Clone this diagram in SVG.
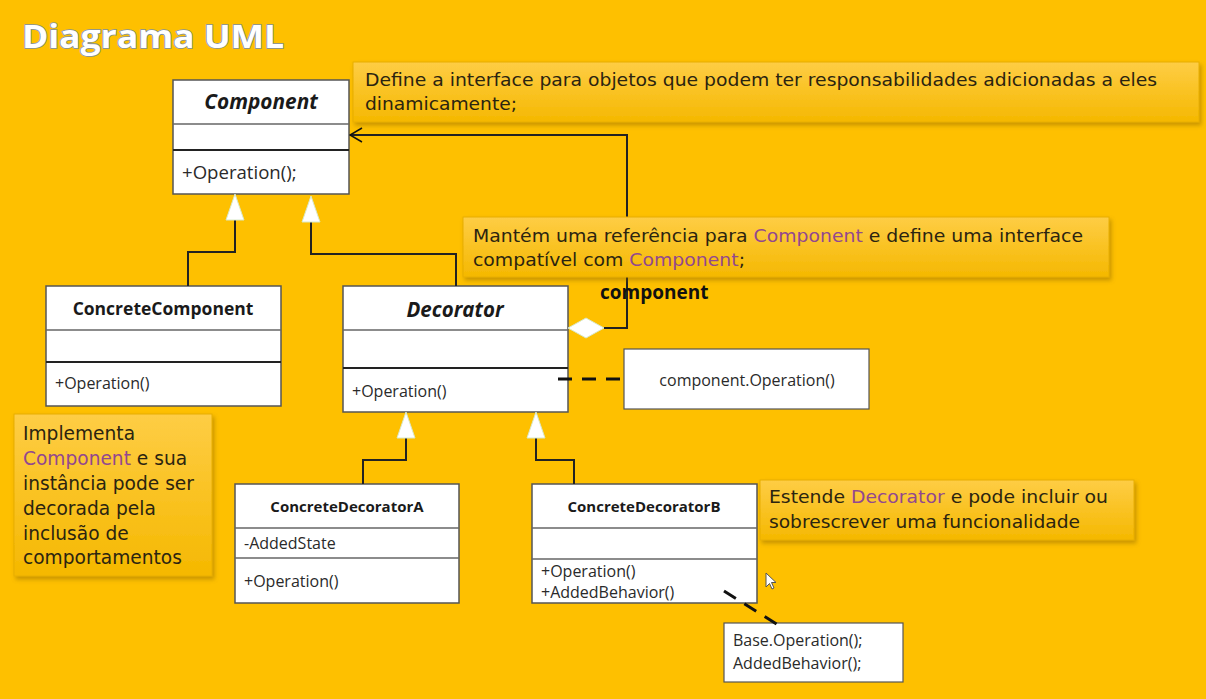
<svg xmlns="http://www.w3.org/2000/svg" width="1206" height="699" viewBox="0 0 1206 699">
<defs>
<linearGradient id="ng" x1="0" y1="0" x2="0" y2="1">
<stop offset="0" stop-color="#FECD45"/>
<stop offset="1" stop-color="#F5B800"/>
</linearGradient>
<filter id="sh" x="-5%" y="-10%" width="110%" height="130%">
<feDropShadow dx="2" dy="3" stdDeviation="2" flood-color="#8a6000" flood-opacity="0.45"/>
</filter>
<marker id="open" markerWidth="14" markerHeight="16" refX="13" refY="8" orient="auto" markerUnits="userSpaceOnUse">
<path d="M1,1 L13,8 L1,15" fill="none" stroke="#111" stroke-width="1.5"/>
</marker>
</defs>
<style>
.box{fill:#fff;stroke:#555;stroke-width:1.5}
.div{stroke:#666;stroke-width:1.5}
.divd{stroke:#222;stroke-width:2}
.cls{font-family:"Open Sans","Noto Sans",sans-serif;font-weight:bold;font-size:17.5px;fill:#1a1a1a}
.abs{font-style:italic}
.mem{font-family:"Open Sans","Noto Sans",sans-serif;font-size:16px;fill:#2a2a2a}
.note{fill:url(#ng);stroke:#E8AE00;stroke-width:1;filter:url(#sh)}
.nt{font-family:"DejaVu Sans",sans-serif;font-size:17px;fill:#2b2410}
.pu{fill:#92488F}
.ln{fill:none;stroke:#222;stroke-width:2}
.tri{fill:#fff;stroke:#d8e8c8;stroke-width:1}
.dash{fill:none;stroke:#111;stroke-width:3;stroke-dasharray:14,10}
</style>
<rect x="0" y="0" width="1206" height="699" fill="#FEC000"/>
<text x="22" y="48" font-family="Open Sans, Noto Sans, sans-serif" font-weight="bold" font-size="33" fill="#ffffff" stroke="#8090a0" stroke-width="1.6" paint-order="stroke" textLength="262" lengthAdjust="spacingAndGlyphs">Diagrama UML</text>

<g id="component">
<rect class="box" x="173" y="80" width="176" height="114"/>
<line class="div" x1="173" y1="124" x2="349" y2="124"/>
<line class="divd" x1="173" y1="150" x2="349" y2="150"/>
<text class="cls abs" x="261" y="109" text-anchor="middle" style="font-size:20.8px">Component</text>
<text class="mem" x="182" y="179" style="font-size:18.6px">+Operation();</text>
</g>

<g id="concrete-component">
<rect class="box" x="46" y="286" width="235" height="120"/>
<line class="div" x1="46" y1="330" x2="281" y2="330"/>
<line class="divd" x1="46" y1="362" x2="281" y2="362"/>
<text class="cls" x="163" y="315" text-anchor="middle">ConcreteComponent</text>
<text class="mem" x="55" y="389">+Operation()</text>
</g>

<g id="decorator">
<rect class="box" x="343" y="286" width="225" height="126"/>
<line class="div" x1="343" y1="330" x2="568" y2="330"/>
<line class="divd" x1="343" y1="368" x2="568" y2="368"/>
<text class="cls abs" x="455" y="317" text-anchor="middle" style="font-size:20.5px">Decorator</text>
<text class="mem" x="352" y="397">+Operation()</text>
</g>

<g id="concrete-decorator-a">
<rect class="box" x="235" y="484" width="224" height="119"/>
<line class="div" x1="235" y1="528" x2="459" y2="528"/>
<line class="div" x1="235" y1="558" x2="459" y2="558"/>
<text class="cls" x="347" y="512" text-anchor="middle" style="font-size:15px">ConcreteDecoratorA</text>
<text class="mem" x="244" y="549">-AddedState</text>
<text class="mem" x="244" y="587">+Operation()</text>
</g>

<g id="concrete-decorator-b">
<rect class="box" x="532" y="484" width="225" height="119"/>
<line class="div" x1="532" y1="528" x2="757" y2="528"/>
<line class="div" x1="532" y1="559" x2="757" y2="559"/>
<text class="cls" x="644" y="512" text-anchor="middle" style="font-size:15px">ConcreteDecoratorB</text>
<text class="mem" x="541" y="577">+Operation()</text>
<text class="mem" x="541" y="598">+AddedBehavior()</text>
</g>

<g id="note-op">
<rect x="624" y="349" width="245" height="60" fill="#fff" stroke="#555" stroke-width="1.2"/>
<text class="mem" x="747" y="386" text-anchor="middle">component.Operation()</text>
</g>

<g id="note-base">
<rect x="724" y="623" width="179" height="59" fill="#fff" stroke="#555" stroke-width="1.2"/>
<text class="mem" x="733" y="646">Base.Operation();</text>
<text class="mem" x="733" y="669">AddedBehavior();</text>
</g>

<g id="connectors">
<polyline class="ln" points="235,220 235,252 188,252 188,286"/>
<polygon class="tri" points="235,194 226,220 244,220"/>
<polyline class="ln" points="311,222 311,254 456,254 456,286"/>
<polygon class="tri" points="311,196 302,222 320,222"/>
<polyline class="ln" points="604,328 627,328 627,135 350,135" marker-end="url(#open)"/>
<polygon points="568,328 586,318 604,328 586,338" fill="#fff" stroke="#d8e8c8" stroke-width="1"/>
<polyline class="ln" points="406,438 406,460 363,460 363,484"/>
<polygon class="tri" points="406,412 397,438 415,438"/>
<polyline class="ln" points="536,438 536,460 574,460 574,484"/>
<polygon class="tri" points="536,412 527,438 545,438"/>
<line class="dash" x1="558" y1="379" x2="624" y2="379"/>
<line class="dash" x1="724" y1="591" x2="783" y2="628"/>
</g>

<g id="note-component">
<rect class="note" x="353" y="62" width="846" height="60"/>
<text class="nt" x="365" y="86" textLength="792" lengthAdjust="spacingAndGlyphs">Define a interface para objetos que podem ter responsabilidades adicionadas a eles</text>
<text class="nt" x="365" y="110" textLength="152" lengthAdjust="spacingAndGlyphs">dinamicamente;</text>
</g>

<g id="note-decorator">
<rect class="note" x="463" y="217" width="646" height="60"/>
<text class="nt" x="473" y="242" textLength="610" lengthAdjust="spacingAndGlyphs">Mantém uma referência para <tspan class="pu">Component</tspan> e define uma interface</text>
<text class="nt" x="473" y="266" textLength="272" lengthAdjust="spacingAndGlyphs">compatível com <tspan class="pu">Component</tspan>;</text>
</g>
<text x="600" y="299" font-family="Open Sans, Noto Sans, sans-serif" font-weight="bold" font-size="19" fill="#111">component</text>

<g id="note-concrete">
<rect class="note" x="14" y="414" width="198" height="162"/>
<text class="nt" style="font-size:18.6px">
<tspan x="23" y="440">Implementa</tspan>
<tspan x="23" y="465"><tspan class="pu">Component</tspan> e sua</tspan>
<tspan x="23" y="490">instância pode ser</tspan>
<tspan x="23" y="515">decorada pela</tspan>
<tspan x="23" y="540">inclusão de</tspan>
<tspan x="23" y="564">comportamentos</tspan>
</text>
</g>

<g id="note-extends">
<rect class="note" x="760" y="480" width="374" height="60"/>
<text class="nt" x="769" y="503" textLength="339" lengthAdjust="spacingAndGlyphs">Estende <tspan class="pu">Decorator</tspan> e pode incluir ou</text>
<text class="nt" x="769" y="528" textLength="311" lengthAdjust="spacingAndGlyphs">sobrescrever uma funcionalidade</text>
</g>

<path d="M766,573 L766,587 L769.5,583.5 L772,589 L774,588 L771.5,582.5 L776,582.5 Z" fill="#fff" stroke="#555" stroke-width="1"/>
</svg>
